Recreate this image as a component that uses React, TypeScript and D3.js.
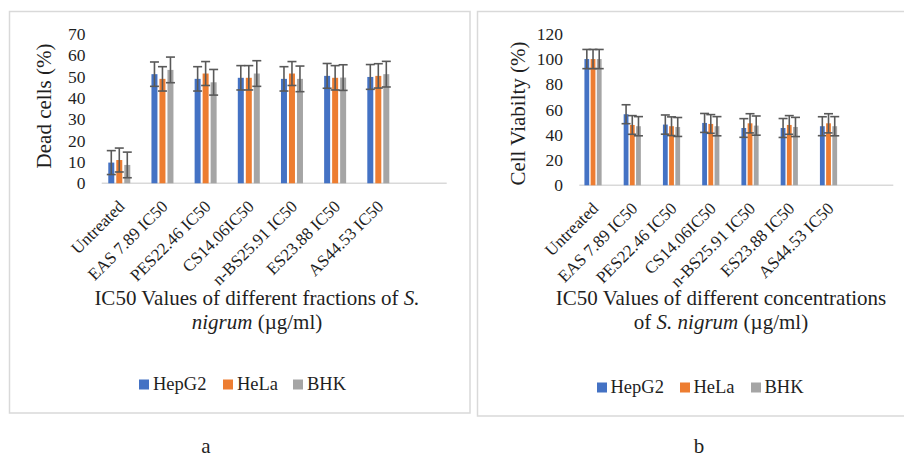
import React from "react";
import * as d3 from "d3";

const categories = [
  "Untreated",
  "EAS 7.89 IC50",
  "PES22.46 IC50",
  "CS14.06IC50",
  "n-BS25.91 IC50",
  "ES23.88 IC50",
  "AS44.53 IC50",
];
const seriesNames = ["HepG2", "HeLa", "BHK"];
const seriesColors = ["#4472C4", "#ED7D31", "#A5A5A5"];

// Panel a: Dead cells (%)
const deadHepG2 = [9.7, 51.1, 48.9, 49.4, 48.9, 50.3, 49.8];
const deadHeLa = [10.9, 48.9, 51.4, 49.4, 51.4, 49.4, 50.3];
const deadBHK = [8.6, 53.1, 47.3, 51.4, 48.9, 49.5, 51.1];
const deadErrHepG2 = [5.6, 5.7, 5.7, 5.7, 5.7, 5.8, 5.8];
const deadErrHeLa = [5.6, 5.7, 5.6, 5.7, 5.6, 5.7, 5.7];
const deadErrBHK = [6, 6, 6, 6, 6, 6, 6];
const deadTicks = [0, 10, 20, 30, 40, 50, 60, 70];

// Panel b: Cell viability (%)
const viaHepG2 = [100, 56.3, 48.1, 49.4, 45.4, 45.4, 46.8];
const viaHeLa = [100, 47.8, 46.8, 48.6, 49.1, 47.8, 49.1];
const viaBHK = [100, 46.8, 46.2, 46.8, 47.3, 46.2, 46.8];
const viaErrHepG2 = [7.6, 7.5, 7.6, 7.5, 7.4, 7.5, 7.5];
const viaErrHeLa = [7.6, 7.4, 7.4, 7.4, 7.6, 7.4, 7.6];
const viaErrBHK = [7.6, 7.6, 7.5, 7.6, 7.6, 7.6, 7.6];
const viaTicks = [0, 20, 40, 60, 80, 100, 120];

const FONT = "'Liberation Serif', 'Times New Roman', Times, serif";
const TEXT = "#1f1f1f";
const ERR = "#595959";
const GRID = "#d9d9d9";

type PanelProps = {
  values: number[][];
  errors: number[][];
  ticks: number[];
  yMax: number;
  box: [number, number, number, number];
  xStart: number;
  step: number;
  axisX: [number, number];
  yRange: [number, number];
  tickRight: number;
  yTitle: string;
  yTitlePos: [number, number];
  barRange: number;
  barPad: number;
  capW: number;
  titleLines: React.ReactNode[];
  titleX: number;
  legendX: number[];
  legendY: number;
  legendGap: number;
  letter: string;
  letterX: number;
};

function Panel(p: PanelProps) {
  const x = d3
    .scaleBand<string>()
    .domain(categories)
    .range([p.xStart, p.xStart + p.step * categories.length])
    .paddingInner(0)
    .paddingOuter(0);
  const xs = d3
    .scaleBand<string>()
    .domain(seriesNames)
    .range([-p.barRange, p.barRange])
    .paddingInner(p.barPad)
    .paddingOuter(0);
  const y = d3.scaleLinear().domain([0, p.yMax]).range(p.yRange);
  const [bx0, by0, bx1, by1] = p.box;
  return (
    <g>
      <rect
        x={bx0}
        y={by0}
        width={bx1 - bx0}
        height={by1 - by0}
        fill="#fff"
        stroke={GRID}
        strokeWidth={1.5}
      />
      {p.ticks.map((t) => (
        <text
          key={t}
          x={p.tickRight}
          y={y(t)}
          dy="0.35em"
          textAnchor="end"
          fontSize={17.5}
          fontFamily={FONT}
          fill={TEXT}
        >
          {t}
        </text>
      ))}
      <text
        transform={`translate(${p.yTitlePos[0]},${p.yTitlePos[1]}) rotate(-90)`}
        textAnchor="middle"
        fontSize={21}
        fontFamily={FONT}
        fill={TEXT}
      >
        {p.yTitle}
      </text>
      <line
        x1={p.axisX[0]}
        x2={p.axisX[1]}
        y1={y(0)}
        y2={y(0)}
        stroke={GRID}
        strokeWidth={1.5}
      />
      {categories.map((c, ci) => {
        const cx = (x(c) as number) + x.bandwidth() / 2;
        return (
          <g key={c}>
            {seriesNames.map((s, si) => {
              const v = p.values[si][ci];
              const e = p.errors[si][ci];
              const bx = cx + (xs(s) as number);
              const bw = xs.bandwidth();
              const mx = bx + bw / 2;
              return (
                <g key={s}>
                  <rect
                    x={bx}
                    y={y(v)}
                    width={bw}
                    height={y(0) - y(v)}
                    fill={seriesColors[si]}
                  />
                  <line x1={mx} x2={mx} y1={y(v + e)} y2={y(v - e)} stroke={ERR} strokeWidth={1.6} />
                  <line x1={mx - p.capW / 2} x2={mx + p.capW / 2} y1={y(v + e)} y2={y(v + e)} stroke={ERR} strokeWidth={1.6} />
                  <line x1={mx - p.capW / 2} x2={mx + p.capW / 2} y1={y(v - e)} y2={y(v - e)} stroke={ERR} strokeWidth={1.6} />
                </g>
              );
            })}
            <text
              transform={`translate(${cx + 2},${y(0) + 20}) rotate(-45)`}
              textAnchor="end"
              dy="0.35em"
              fontSize={17}
              fontFamily={FONT}
              fill={TEXT}
            >
              {c}
            </text>
          </g>
        );
      })}
      {p.titleLines.map((ln, i) => (
        <text
          key={i}
          x={p.titleX}
          y={305 + i * 23.5}
          textAnchor="middle"
          fontSize={21}
          fontFamily={FONT}
          fill={TEXT}
        >
          {ln}
        </text>
      ))}
      {seriesNames.map((s, si) => (
        <g key={s}>
          <rect x={p.legendX[si]} y={p.legendY - 10.5} width={10} height={10} fill={seriesColors[si]} />
          <text x={p.legendX[si] + p.legendGap} y={p.legendY} fontSize={18.5} fontFamily={FONT} fill={TEXT}>
            {s}
          </text>
        </g>
      ))}
      <text x={p.letterX} y={453} textAnchor="middle" fontSize={21} fontFamily={FONT} fill={TEXT}>
        {p.letter}
      </text>
    </g>
  );
}

export default function App() {
  return (
    <svg
      width={904}
      height={458}
      style={{ position: "absolute", left: 0, top: 0, background: "#fff" }}
    >
      <Panel
        values={[deadHepG2, deadHeLa, deadBHK]}
        errors={[deadErrHepG2, deadErrHeLa, deadErrBHK]}
        ticks={deadTicks}
        yMax={70}
        box={[9.5, 11.5, 470, 413]}
        xStart={97.7}
        step={43.17}
        axisX={[101.7, 446.7]}
        yRange={[183.3, 33.8]}
        tickRight={85.5}
        yTitle="Dead cells (%)"
        yTitlePos={[51.3, 106]}
        barRange={11}
        barPad={0.25}
        capW={9}
        titleLines={[
          <>IC50 Values of different fractions of <tspan fontStyle="italic">S.</tspan></>,
          <><tspan fontStyle="italic">nigrum</tspan> (µg/ml)</>,
        ]}
        titleX={257}
        legendX={[139, 223, 293]}
        legendY={390}
        legendGap={14}
        letter="a"
        letterX={206}
      />
      <Panel
        values={[viaHepG2, viaHeLa, viaBHK]}
        errors={[viaErrHepG2, viaErrHeLa, viaErrBHK]}
        ticks={viaTicks}
        yMax={120}
        box={[477.5, 11.5, 912, 416]}
        xStart={573.4}
        step={39.25}
        axisX={[579.3, 893.3]}
        yRange={[185.3, 33.8]}
        tickRight={563}
        yTitle="Cell Viabilty (%)"
        yTitlePos={[525, 113.5]}
        barRange={8.6}
        barPad={0.226}
        capW={9}
        titleLines={[
          <>IC50 Values of different concentrations</>,
          <>of <tspan fontStyle="italic">S. nigrum</tspan> (µg/ml)</>,
        ]}
        titleX={721}
        legendX={[597, 680, 751]}
        legendY={393}
        legendGap={13.5}
        letter="b"
        letterX={699}
      />
    </svg>
  );
}
